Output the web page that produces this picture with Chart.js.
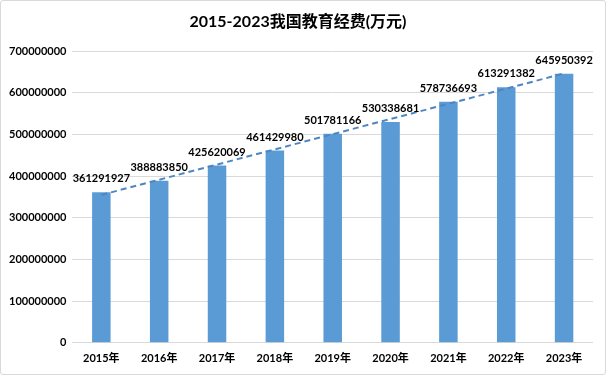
<!DOCTYPE html>
<html>
<head>
<meta charset="utf-8">
<script src="https://cdn.jsdelivr.net/npm/chart.js@4/dist/chart.umd.min.js"></script>
<style>
  html, body { margin: 0; padding: 0; background: #fff; }
  #wrap { width: 604px; height: 373px; border: 1px solid #d9d9d9; border-radius: 3px; position: relative; }
  canvas { display: block; }
</style>
</head>
<body>
<div id="wrap"><canvas id="chart" width="604" height="373"></canvas></div>
<script>
const years = ['2015年', '2016年', '2017年', '2018年', '2019年', '2020年', '2021年', '2022年', '2023年'];
const funding = [361291927, 388883850, 425620069, 461429980, 501781166, 530338681, 578736693, 613291382, 645950392];
const yTicks = [0, 100000000, 200000000, 300000000, 400000000, 500000000, 600000000, 700000000];

const FONT = 'Lato, "Noto Sans CJK SC", sans-serif';

// linear trendline (least squares), same as Excel's
const n = funding.length;
let sx = 0, sy = 0, sxy = 0, sxx = 0;
funding.forEach((v, i) => { const x = i + 1; sx += x; sy += v; sxy += x * v; sxx += x * x; });
const slope = (n * sxy - sx * sy) / (n * sxx - sx * sx);
const icpt = (sy - slope * sx) / n;
const trend = funding.map((v, i) => icpt + slope * (i + 1));

// value labels above the bars
const barLabels = {
    id: 'barLabels',
    afterDatasetsDraw(chart) {
        const ctx = chart.ctx;
        const meta = chart.getDatasetMeta(0);
        ctx.save();
        ctx.font = 'bold 11px ' + FONT;
        ctx.fillStyle = '#000';
        ctx.textAlign = 'center';
        ctx.textBaseline = 'bottom';
        meta.data.forEach((bar, i) => {
            ctx.fillText(String(funding[i]), bar.x, bar.y - 8);
        });
        ctx.restore();
    }
};

new Chart(document.getElementById('chart').getContext('2d'), {
    type: 'bar',
    data: {
        labels: years,
        datasets: [{
            data: funding,
            backgroundColor: '#5b9bd5',
            categoryPercentage: 1,
            barPercentage: 0.32,
            order: 1
        }, {
            type: 'line',
            data: trend,
            borderColor: '#4e86c2',
            borderWidth: 2,
            borderDash: [6, 4],
            pointRadius: 0,
            fill: false,
            order: 0
        }]
    },
    options: {
        responsive: false,
        animation: false,
        layout: { padding: { left: 2, right: 12, top: 0, bottom: 8 } },
        plugins: {
            legend: { display: false },
            tooltip: { enabled: false },
            title: {
                display: true,
                text: '2015-2023我国教育经费(万元)',
                color: '#000',
                font: { family: FONT, size: 16, weight: 'bold' },
                padding: { top: 11, bottom: 20 }
            }
        },
        scales: {
            x: {
                grid: { display: false },
                border: { display: false },
                ticks: { color: '#000', font: { family: FONT, size: 11, weight: 'bold' }, padding: 1 }
            },
            y: {
                min: 0,
                max: 700000000,
                afterBuildTicks(axis) { axis.ticks = yTicks.map(v => ({ value: v })); },
                grid: { color: '#d9d9d9', drawTicks: false },
                border: { display: false },
                ticks: {
                    color: '#000',
                    font: { family: FONT, size: 11, weight: 'bold' },
                    padding: 6,
                    callback: v => String(v)
                }
            }
        }
    },
    plugins: [barLabels]
});
</script>
</body>
</html>
